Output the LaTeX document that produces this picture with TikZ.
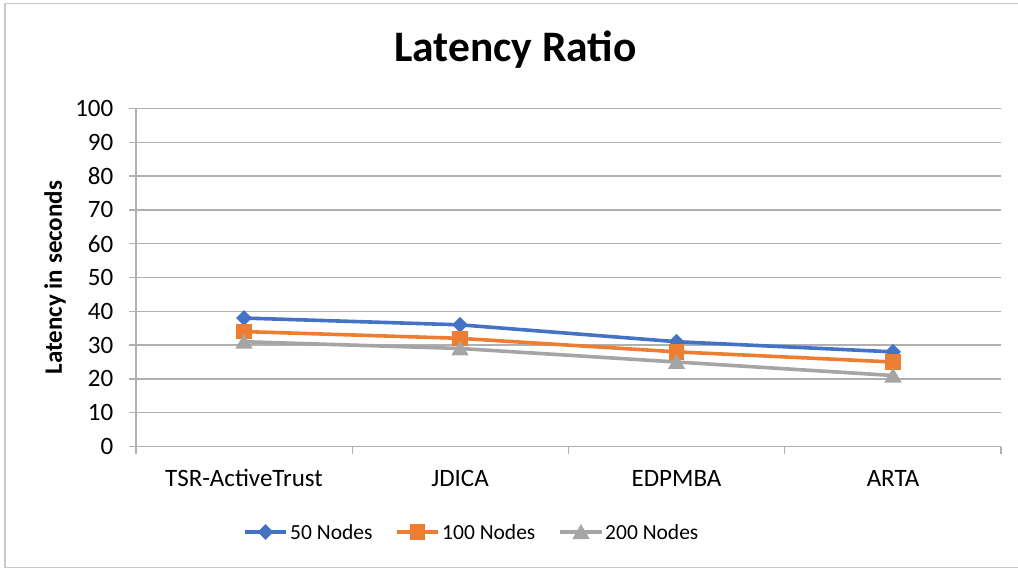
\documentclass[tikz,border=0pt]{standalone}
\usepackage{fontspec}
\setmainfont{Carlito}
\usetikzlibrary{shapes.geometric}
\definecolor{serA}{HTML}{4472C4}
\definecolor{serB}{HTML}{ED7D31}
\definecolor{serC}{HTML}{A5A5A5}
\definecolor{gridc}{HTML}{B0B0B0}
\definecolor{framec}{HTML}{C8C8C8}
\tikzset{
  gridline/.style={gridc, line width=1.4pt},
  axisline/.style={gridc, line width=1.4pt},
  ticklabel/.style={font=\fontsize{25}{29}\selectfont, anchor=east, inner sep=0pt},
  catlabel/.style={font=\fontsize{25}{29}\selectfont, inner sep=0pt},
  legendlabel/.style={font=\fontsize{21.5}{25}\selectfont, anchor=west, inner sep=0pt},
  serline/.style={line width=3.6pt, line join=round},
  mkdiamond/.style={diamond, fill=#1, draw=none, minimum width=16pt, minimum height=16pt, inner sep=0pt},
  mksquare/.style={rectangle, fill=#1, draw=none, minimum size=15.5pt, inner sep=0pt},
  mktriangle/.style={regular polygon, regular polygon sides=3, fill=#1, draw=none, minimum size=20pt, inner sep=0pt},
}
\begin{document}
\begin{tikzpicture}[x=1pt, y=-1pt]
\useasboundingbox (0,0) rectangle (1018,569);
% outer frame
\draw[framec, line width=1.2pt] (5,3.5) rectangle (1020,567.5);

% title
\node[font=\fontsize{43.5}{48}\selectfont\bfseries, inner sep=0pt] (title) at (515.5,50) {Latency Ratio};

% horizontal gridlines, left ticks and value labels
\foreach \v in {0,10,...,100} {
  \pgfmathsetmacro{\yy}{446.5-3.38*\v}
  \draw[gridline] (129,\yy) -- (1001,\yy);
  \node[ticklabel] (yl\v) at (113.5,\yy) {\v};
}
% value axis
\draw[axisline] (136,108.5) -- (136,446.5);
% category ticks
\foreach \xx in {136,352.25,568.5,784.75,1001} {
  \draw[axisline] (\xx,446.5) -- (\xx,454);
}
% axis title
\node[font=\fontsize{25}{29}\selectfont\bfseries, rotate=90, inner sep=0pt] (ytitle) at (55,277.5) {Latency in seconds};

% category labels
\node[catlabel] (c1) at (244,478) {TSR-ActiveTrust};
\node[catlabel] (c2) at (460,478) {JDICA};
\node[catlabel] (c3) at (676.5,478) {EDPMBA};
\node[catlabel] (c4) at (893,478) {ARTA};

% data points
\foreach \s/\a/\b/\c/\d in {A/38/36/31/28, B/34/32/28/25, C/31/29/25/21} {
  \coordinate (\s1) at (244,{446.5-3.38*\a});
  \coordinate (\s2) at (460,{446.5-3.38*\b});
  \coordinate (\s3) at (676.5,{446.5-3.38*\c});
  \coordinate (\s4) at (893,{446.5-3.38*\d});
}

% 50 Nodes
\draw[serline, serA] (A1) -- (A2) -- (A3) -- (A4);
\foreach \i in {1,...,4} \node[mkdiamond=serA] (mA\i) at (A\i) {};
% 100 Nodes
\draw[serline, serB] (B1) -- (B2) -- (B3) -- (B4);
\foreach \i in {1,...,4} \node[mksquare=serB] (mB\i) at (B\i) {};
% 200 Nodes
\draw[serline, serC] (C1) -- (C2) -- (C3) -- (C4);
\foreach \i in {1,...,4} \node[mktriangle=serC, yshift=-2pt] (mC\i) at (C\i) {};

% legend
\coordinate (lA0) at (245,532); \coordinate (lA1) at (286,532);
\draw[serline, serA] (lA0) -- (lA1);
\node[mkdiamond=serA] (lAm) at (265.5,532) {};
\node[legendlabel] (lAt) at (290,532) {50 Nodes};

\coordinate (lB0) at (397,532); \coordinate (lB1) at (438,532);
\draw[serline, serB] (lB0) -- (lB1);
\node[mksquare=serB] (lBm) at (417.5,532) {};
\node[legendlabel] (lBt) at (442,532) {100 Nodes};

\coordinate (lC0) at (560,532); \coordinate (lC1) at (602,532);
\draw[serline, serC] (lC0) -- (lC1);
\node[mktriangle=serC, yshift=-2pt] (lCm) at (581,532) {};
\node[legendlabel] (lCt) at (605,532) {200 Nodes};
\end{tikzpicture}
\end{document}
